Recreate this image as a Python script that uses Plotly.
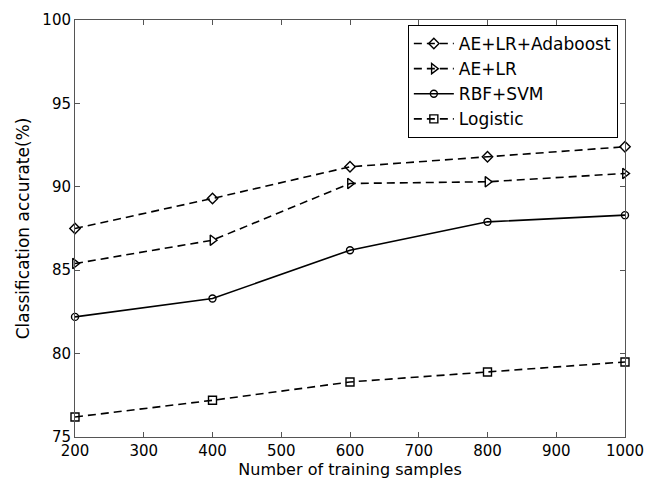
import plotly.graph_objects as go

samples = [200, 400, 600, 800, 1000]
ae_lr_adaboost = [87.5, 89.3, 91.2, 91.8, 92.4]
ae_lr = [85.4, 86.8, 90.2, 90.3, 90.8]
rbf_svm = [82.2, 83.3, 86.2, 87.9, 88.3]
logistic = [76.2, 77.2, 78.3, 78.9, 79.5]

x_ticks = [200, 300, 400, 500, 600, 700, 800, 900, 1000]
y_ticks = [75, 80, 85, 90, 95, 100]

series = [
    ("AE+LR+Adaboost", ae_lr_adaboost, "diamond-open", "8px,5px", 8),
    ("AE+LR", ae_lr, "triangle-right-open", "8px,5px", 9),
    ("RBF+SVM", rbf_svm, "circle-open", "solid", 7),
    ("Logistic", logistic, "square-open", "8px,5px", 8),
]

fig = go.Figure()
for name, vals, sym, dash, msize in series:
    fig.add_trace(go.Scatter(
        x=samples, y=vals, name=name, mode="lines+markers",
        line=dict(color="black", width=1.6, dash=dash),
        marker=dict(symbol=sym, size=msize, color="black", line=dict(width=1.4, color="black")),
        cliponaxis=False,
    ))

axis_common = dict(
    showline=True, linecolor="#555", linewidth=1, mirror="ticks",
    ticks="inside", ticklen=5, tickcolor="#555",
    showgrid=False, zeroline=False, automargin=False,
    ticklabeloverflow="allow",
    tickfont=dict(family="DejaVu Sans", size=15, color="black"),
)

fig.update_layout(
    width=647, height=479,
    margin=dict(l=75, r=22, t=20, b=42, autoexpand=False),
    paper_bgcolor="white", plot_bgcolor="white",
    font=dict(family="DejaVu Sans", color="black"),
    xaxis=dict(range=[200, 1000], tickvals=x_ticks,
               title=dict(text="Number of training samples", font=dict(size=16), standoff=1),
               **axis_common),
    yaxis=dict(range=[75, 100], tickvals=y_ticks,
               title=dict(text="Classification accurate(%)", font=dict(size=17), standoff=8),
               **axis_common),
    legend=dict(x=0.987, y=0.988, xanchor="right", yanchor="top",
                bgcolor="white", bordercolor="black", borderwidth=1,
                font=dict(family="DejaVu Sans", size=17, color="black"),
                tracegroupgap=0, itemwidth=40),
    showlegend=True,
)

fig.write_html("out.html", config={"displayModeBar": False},
               post_script="document.body.style.margin='0';document.body.style.overflow='hidden';")
